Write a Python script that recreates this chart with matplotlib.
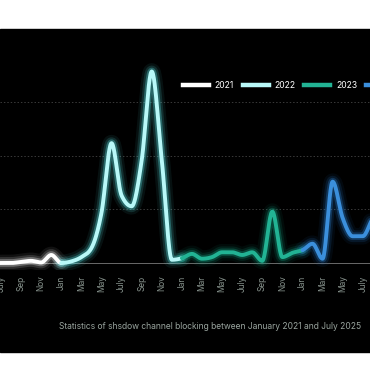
import numpy as np
import matplotlib.pyplot as plt
from matplotlib.lines import Line2D
from matplotlib.patches import Rectangle

plt.rcParams['font.family'] = ['Inter', 'DejaVu Sans']

month_names = ['Jan', 'Feb', 'Mar', 'Apr', 'May', 'Jun',
               'July', 'Aug', 'Sep', 'Oct', 'Nov', 'Dec']
years = ['2021', '2022', '2023', '2024']

# monthly values, Jan 2021 onwards (2024 only as far as the picture shows)
v2021 = [0, 0, 0, 0, 0, 0, 0, 0, 1, 2, 0.5, 7.5]
v2022 = [0, 1.5, 5.5, 14, 47, 112, 63, 53, 96, 179, 96, 3]
v2023 = [4.5, 8.5, 4, 5.5, 10, 10, 7.5, 10, 2, 48, 5.5, 9.5]
v2024 = [12, 18, 4, 76, 42, 25, 25, 42, 55]

line_colors = ['#ffffff', '#b8f8f8', '#22b394', '#3b8fdc']
glow_colors = ['#ffffff', '#5cecef', '#14a585', '#2a7fd0']
grid_values = [50, 100, 150]

caption = "Statistics of shsdow channel blocking between January 2021 and July 2025"


def monotone(x, y, n=24):
    # monotone cubic (Steffen), like the smooth curve of the original
    x = np.asarray(x, float)
    y = np.asarray(y, float)
    h = np.diff(x)
    d = np.diff(y) / h
    m = np.zeros(len(y))
    m[0] = d[0]
    m[-1] = d[-1]
    for i in range(1, len(y) - 1):
        if d[i - 1] * d[i] <= 0:
            m[i] = 0
        else:
            p = (d[i - 1] * h[i] + d[i] * h[i - 1]) / (h[i - 1] + h[i])
            m[i] = (np.sign(d[i - 1]) + np.sign(d[i])) * min(abs(d[i - 1]), abs(d[i]), 0.5 * abs(p))
    xs, ys = [], []
    for i in range(len(y) - 1):
        t = np.linspace(0, 1, n, endpoint=False)
        h00 = 2 * t**3 - 3 * t**2 + 1
        h10 = t**3 - 2 * t**2 + t
        h01 = -2 * t**3 + 3 * t**2
        h11 = t**3 - t**2
        xs.append(x[i] + t * h[i])
        ys.append(h00 * y[i] + h10 * h[i] * m[i] + h01 * y[i + 1] + h11 * h[i] * m[i + 1])
    xs.append([x[-1]])
    ys.append([y[-1]])
    return np.concatenate(xs), np.concatenate(ys)


series = [v2021, v2022, v2023, v2024]
y_all = np.concatenate(series)
x_all = np.arange(len(y_all))
xs, ys = monotone(x_all, y_all)

fig = plt.figure(figsize=(3.7, 3.8), dpi=100, facecolor='white')
fig.patches.append(Rectangle((0, 0.0737), 1, 0.85, transform=fig.transFigure,
                             color='black', zorder=-10))

ax = fig.add_axes([0, 0.2895, 1, 0.6342])
ax.set_zorder(2)
ax.set_facecolor('none')
for sp in ax.spines.values():
    sp.set_visible(False)

for g in grid_values:
    ax.axhline(g, color='#3a3a3a', lw=0.7, ls=(0, (1.5, 2)), zorder=1)
ax.axhline(0, color='#6a6a6a', lw=0.7, zorder=1)

for i, vals in enumerate(series):
    start = 12 * i
    end = min(12 * (i + 1), len(y_all) - 1)
    mask = (xs >= start) & (xs <= end)
    for lw, a in [(12, 0.07), (8.5, 0.14), (5.5, 0.3)]:
        ax.plot(xs[mask], ys[mask], color=glow_colors[i], lw=lw, alpha=a,
                solid_capstyle='round', zorder=2)
    ax.plot(xs[mask], ys[mask], color=line_colors[i], lw=2.8,
            solid_capstyle='round', zorder=3)

ticks = list(range(0, len(y_all), 2))
ax.set_xticks(ticks)
ax.set_xticklabels([month_names[t % 12] for t in ticks], rotation=90,
                   fontsize=6, color='#87938d')
ax.tick_params(axis='x', length=0, pad=4)
ax.set_yticks([])
ax.set_xlim(5.9, 42.72)
ax.set_ylim(-6.54, 218.7)

handles = [Line2D([], [], color=c, lw=3.2) for c in line_colors]
ax.legend(handles, years, ncol=4, loc='center left',
          bbox_to_anchor=(183 / 370, 0.776), bbox_transform=fig.transFigure,
          frameon=False, fontsize=6.2, labelcolor='white', handlelength=3.0,
          handletextpad=0.7, columnspacing=1.0, borderpad=0, borderaxespad=0)

fig.text(361 / 370, 0.142, caption, ha='right', va='center', fontsize=6.1,
         color='#9aa59f')

fig.savefig('out.png', dpi=100, facecolor=fig.get_facecolor())
